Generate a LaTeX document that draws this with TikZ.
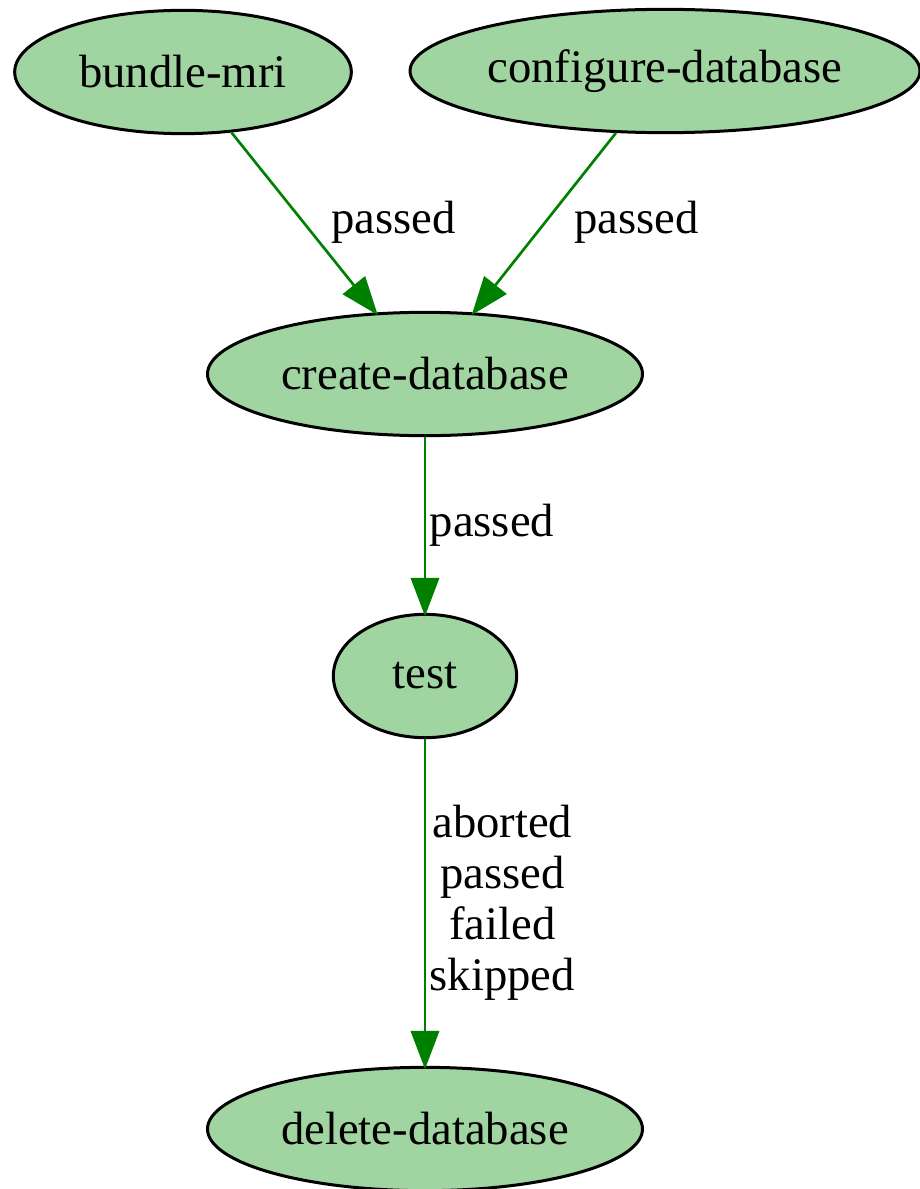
\documentclass[tikz,border=0pt]{standalone}
\usepackage{fontspec}
\setmainfont{Liberation Serif}
\usetikzlibrary{shapes.geometric,arrows.meta,positioning}

\definecolor{jobfill}{HTML}{A0D4A0}
\definecolor{flowgreen}{HTML}{008000}

\tikzset{
  job/.style={ellipse, draw, line width=0.9pt, fill=jobfill, inner sep=0pt,
    minimum height=37pt, font=\fontsize{14}{15.3}\selectfont},
  flow/.style={draw=flowgreen, line width=0.8pt, shorten >=-1pt,
    -{Triangle[length=11.5pt,width=8.5pt]}},
  lbl/.style={align=center, inner sep=0pt, font=\fontsize{14}{15.3}\selectfont}
}

\begin{document}
\begin{tikzpicture}[x=0.3pt,y=-0.3pt]
  \useasboundingbox (0,0) rectangle (920,1189);

  % jobs
  \node[job, minimum width=101pt] (bundle) at (183,72) {bundle-mri};
  \node[job, minimum width=153pt] (configure) at (665,71) {configure-database};
  \node[job, minimum width=130.5pt] (create) at (425,374) {create-database};
  \node[job, minimum width=55pt] (test) at (425,676) {test};
  \node[job, minimum width=130.5pt] (delete) at (425,1129) {delete-database};

  % triggers
  \draw[flow] (bundle) -- node[lbl, right=8pt] (bundlepass) {passed} (create);
  \draw[flow] (configure) -- node[lbl, right=8.5pt] (configpass) {passed} (create);
  \draw[flow] (create) -- node[lbl, right=1pt] (createpass) {passed} (test);
  \draw[flow] (test) -- node[lbl, right=1pt] (testany) {aborted\\passed\\failed\\skipped} (delete);
\end{tikzpicture}
\end{document}
